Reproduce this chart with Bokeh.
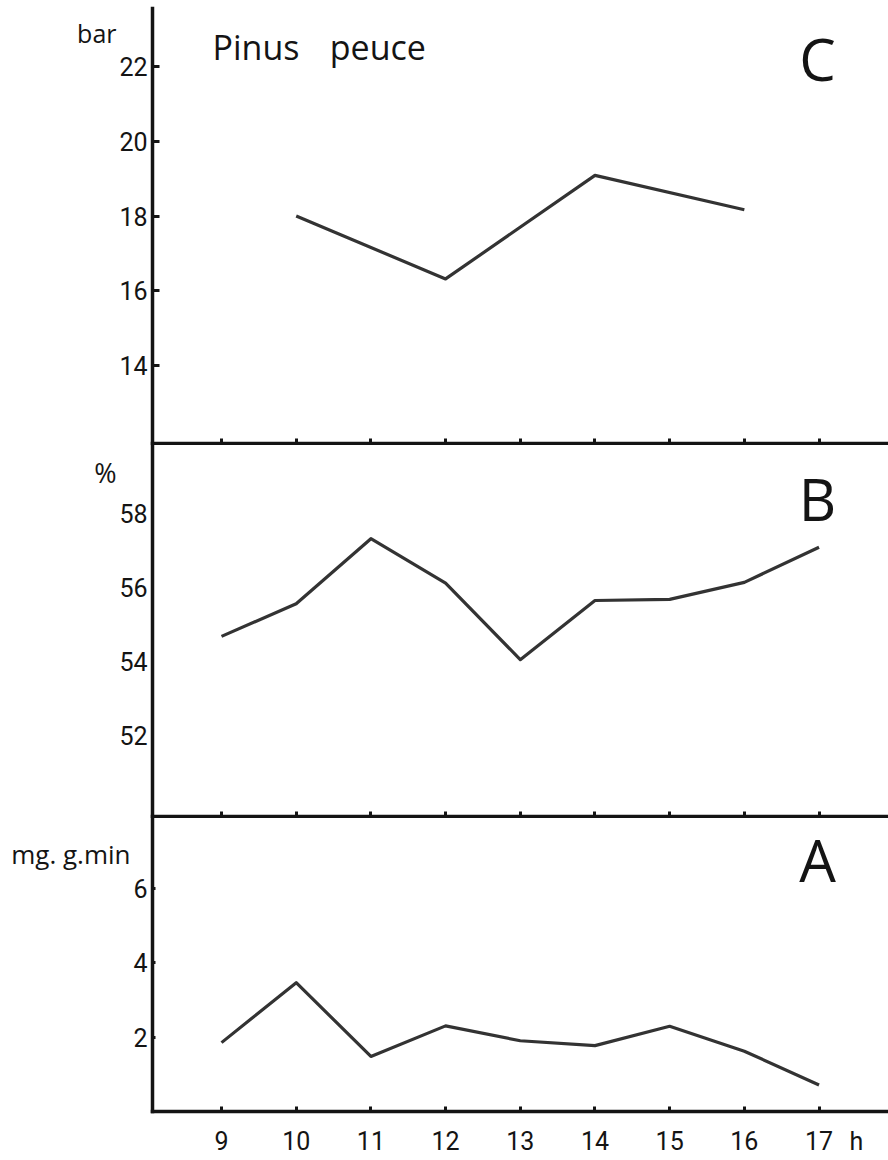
from bokeh.plotting import figure
from bokeh.models import Range1d, Label, FixedTicker, LinearAxis
from bokeh.layouts import column
from bokeh.embed import file_html
from bokeh.resources import INLINE

# ---- data ----
hours = [9, 10, 11, 12, 13, 14, 15, 16, 17]
c_hours = [10, 12, 14, 16]
c_values = [18.0, 16.32, 19.09, 18.17]            # bar
b_values = [54.68, 55.56, 57.32, 56.12, 54.05, 55.65, 55.68, 56.14, 57.09]   # %
a_values = [1.85, 3.46, 1.48, 2.30, 1.90, 1.77, 2.29, 1.62, 0.71]            # mg.g.min
c_ticks = [14, 16, 18, 20, 22]
b_ticks = [52, 54, 56, 58]
a_ticks = [2, 4, 6]
x_unit = "h"
x_unit_pos = 17.5
c_unit, c_unit_pos = "bar", 22.9
b_unit, b_unit_pos = "%", 59.1
a_unit, a_unit_pos = "mg. g.min", 6.91

FONT = "Open Sans"
NUM_FONT = "Roboto"
INK = "#141414"
LINE = "#333333"

x_range = Range1d(8.076, 17.93)


def style_axis(ax):
    ax.axis_line_width = 3.5
    ax.axis_line_color = INK
    ax.axis_line_cap = "square"
    ax.major_tick_line_width = 3
    ax.major_tick_line_color = INK
    ax.minor_tick_line_width = 3
    ax.minor_tick_line_color = INK
    ax.minor_tick_in = 0
    ax.minor_tick_out = 0
    ax.major_tick_out = 0


def make_panel(frame_h, y0, y1, yticks, tick_in, unit, unit_pos, unit_size,
               bottom, top=0):
    p = figure(frame_width=736, frame_height=frame_h,
               x_range=x_range, y_range=Range1d(y0, y1),
               output_backend="svg", toolbar_location=None,
               min_border_left=152, min_border_right=0,
               min_border_top=top, min_border_bottom=0 if bottom else 2)
    p.grid.visible = False
    p.outline_line_color = None
    p.background_fill_color = "white"
    p.border_fill_color = "white"

    ya = p.yaxis[0]
    style_axis(ya)
    ya.ticker = FixedTicker(ticks=yticks)
    ya.major_tick_in = tick_in
    ya.major_label_text_font = NUM_FONT
    ya.major_label_text_font_size = "25px"
    ya.major_label_text_color = INK
    ya.major_label_standoff = 5

    # unit label sitting left of the tick labels
    ua = LinearAxis(ticker=FixedTicker(ticks=[unit_pos]),
                    major_label_overrides={unit_pos: unit})
    ua.axis_line_color = None
    ua.major_tick_line_color = None
    ua.minor_tick_line_color = None
    ua.major_tick_in = 0
    ua.major_tick_out = 0
    ua.minor_tick_in = 0
    ua.minor_tick_out = 0
    ua.major_label_standoff = 0
    ua.major_label_text_font = FONT
    ua.major_label_text_font_size = unit_size
    ua.major_label_text_color = INK
    p.add_layout(ua, "left")

    xa = p.xaxis[0]
    style_axis(xa)
    xa.minor_tick_in = 5
    xa.major_tick_in = 0
    if bottom:
        xa.ticker = FixedTicker(ticks=hours + [x_unit_pos], minor_ticks=hours)
        xa.major_label_overrides = {x_unit_pos: x_unit}
        xa.major_label_text_font = NUM_FONT
        xa.major_label_text_font_size = "25px"
        xa.major_label_text_color = INK
        xa.major_label_standoff = 15
    else:
        xa.ticker = FixedTicker(ticks=[], minor_ticks=hours)
        xa.major_label_standoff = 0
    return p


def add_text(p, x, y, text, size, align="left", font=FONT):
    p.add_layout(Label(x=x, y=y, text=text, text_font=font, text_font_size=size,
                       text_color=INK, text_align=align, text_baseline="middle"))


# Panel C (bar)
pc = make_panel(435, 11.92, 23.55, c_ticks, 7, c_unit, c_unit_pos, "25px",
                bottom=False, top=8)
pc.line(c_hours, c_values, line_width=3.2, line_color=LINE, line_join="round")
add_text(pc, 8.88, 22.52, "Pinus", "34px")
add_text(pc, 10.45, 22.52, "peuce", "34px")
add_text(pc, 16.98, 22.2, "C", "58px", align="center")

# Panel B (%)
pb = make_panel(371, 49.81, 59.84, b_ticks, 0, b_unit, b_unit_pos, "27px",
                bottom=False)
pb.line(hours, b_values, line_width=3.2, line_color=LINE, line_join="round")
add_text(pb, 16.98, 58.4, "B", "58px", align="center")

# Panel A (mg.g.min)
pa = make_panel(293, 0.0, 7.87, a_ticks, 3, a_unit, a_unit_pos, "26px",
                bottom=True)
pa.line(hours, a_values, line_width=3.2, line_color=LINE, line_join="round")
add_text(pa, 16.98, 6.78, "A", "58px", align="center")

layout = column(pc, pb, pa, spacing=0)
open("out.html", "w").write(file_html(layout, INLINE))
